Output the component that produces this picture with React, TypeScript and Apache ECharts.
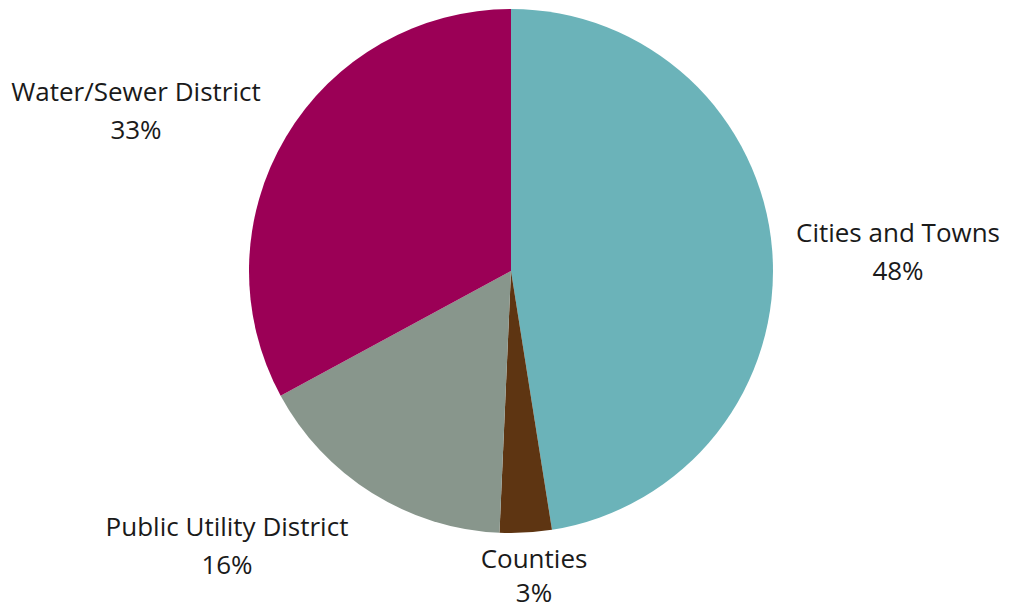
import React, { useEffect, useRef } from "react";
import * as echarts from "echarts";

const categories = ["Cities and Towns", "Counties", "Public Utility District", "Water/Sewer District"];
const values = [47.5, 3.2, 16.4, 32.9];
const colors = ["#6BB3B9", "#5E3512", "#88968C", "#9B0056"];
const labelCenters: [number, number][] = [
  [898, 251],
  [534, 575],
  [227, 545],
  [136, 110],
];
const labelLineHeights = [38, 34, 38, 38];

export default function App() {
  const ref = useRef<HTMLDivElement>(null);
  useEffect(() => {
    const chart = echarts.init(ref.current!, null, { renderer: "svg" });
    chart.setOption({
      animation: false,
      backgroundColor: "#ffffff",
      series: [
        {
          type: "pie",
          center: [511, 271],
          radius: 262,
          startAngle: 90,
          clockwise: true,
          data: categories.map((name, i) => ({
            name,
            value: values[i],
            itemStyle: { color: colors[i] },
            label: { lineHeight: labelLineHeights[i] },
          })),
          label: {
            show: true,
            position: "outside",
            formatter: (p: any) => `${p.name}\n${Math.round(p.percent)}%`,
            fontFamily: "Open Sans",
            fontSize: 26,
            lineHeight: 38,
            color: "#1a1a1a",
            align: "center",
            overflow: "none",
            width: 400,
          },
          labelLine: { show: false },
          labelLayout: (params: any) => ({
            x: labelCenters[params.dataIndex][0],
            y: labelCenters[params.dataIndex][1],
            align: "center",
            verticalAlign: "middle",
          }),
          emphasis: { disabled: true },
        },
      ],
    });
    return () => chart.dispose();
  }, []);
  return (
    <div
      ref={ref}
      style={{ position: "absolute", left: 0, top: 0, width: 1010, height: 609 }}
    />
  );
}
